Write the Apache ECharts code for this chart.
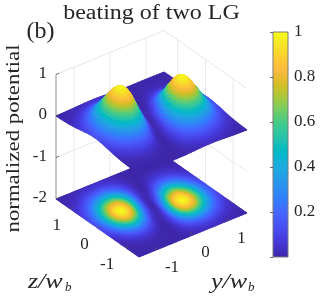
<!DOCTYPE html>
<html><head><meta charset="utf-8">
<style>html,body{margin:0;padding:0;background:#fff}#c{width:332px;height:299px}</style>
<script src="https://cdn.jsdelivr.net/npm/echarts@6/dist/echarts.min.js"></script>
</head><body><div id="c"></div>
<script>
const yGrid = [-1.5,-1.25,-1,-0.75,-0.5,-0.25,0,0.25,0.5,0.75,1,1.25,1.5];
const zGrid = [-1.5,-1.25,-1,-0.75,-0.5,-0.25,0,0.25,0.5,0.75,1,1.25,1.5];
const potentialRows = [
 [0.000,0.001,0.002,0.001,0.000,0.003,0.014,0.028,0.034,0.028,0.017,0.008,0.002],
 [0.003,0.006,0.009,0.007,0.001,0.006,0.040,0.088,0.112,0.097,0.059,0.026,0.009],
 [0.010,0.024,0.038,0.035,0.010,0.005,0.078,0.205,0.285,0.256,0.161,0.073,0.025],
 [0.027,0.068,0.117,0.124,0.056,0.000,0.105,0.360,0.551,0.521,0.338,0.158,0.054],
 [0.057,0.150,0.274,0.320,0.192,0.016,0.088,0.465,0.809,0.815,0.549,0.262,0.091],
 [0.095,0.256,0.485,0.614,0.446,0.102,0.032,0.428,0.895,0.975,0.685,0.337,0.120],
 [0.122,0.334,0.658,0.889,0.738,0.268,0.000,0.268,0.738,0.889,0.658,0.334,0.122],
 [0.120,0.337,0.685,0.975,0.895,0.428,0.032,0.102,0.446,0.614,0.485,0.256,0.095],
 [0.091,0.262,0.549,0.815,0.809,0.465,0.088,0.016,0.192,0.320,0.274,0.150,0.057],
 [0.054,0.158,0.338,0.521,0.551,0.360,0.105,0.000,0.056,0.124,0.117,0.068,0.027],
 [0.025,0.073,0.161,0.256,0.285,0.205,0.078,0.005,0.010,0.035,0.038,0.024,0.010],
 [0.009,0.026,0.059,0.097,0.112,0.088,0.040,0.006,0.001,0.007,0.009,0.006,0.003],
 [0.002,0.008,0.017,0.028,0.034,0.028,0.014,0.003,0.000,0.001,0.002,0.001,0.000]
];
const yTicks = [-1,0,1];
const zTicks = [1,0,-1];
const vTicks = [1,0,-1,-2];
const barTicks = [0.2,0.4,0.6,0.8,1];
const parula = [[.2422,.1504,.6603],[.2504,.165,.7076],[.2578,.1818,.7511],[.2647,.1978,.7952],[.2706,.2147,.8364],[.2751,.2342,.871],[.2783,.2559,.8991],[.2803,.2782,.9221],[.2813,.3006,.9414],[.281,.3228,.9579],[.2795,.3447,.9717],[.276,.3667,.9829],[.2699,.3892,.9906],[.2602,.4123,.9952],[.244,.4358,.9988],[.2206,.4603,.9973],[.1963,.4847,.9892],[.1834,.5074,.9798],[.1786,.5289,.9682],[.1764,.5499,.952],[.1687,.5703,.9359],[.154,.5902,.9218],[.146,.6091,.9079],[.138,.6276,.8973],[.1248,.6459,.8883],[.1113,.6635,.8763],[.0952,.6798,.8598],[.0689,.6948,.8394],[.0297,.7082,.8163],[.0036,.7203,.7917],[.0067,.7312,.766],[.0433,.7411,.7394],[.0964,.75,.712],[.1408,.7584,.6842],[.1717,.767,.6554],[.1938,.7758,.6251],[.2161,.7843,.5923],[.247,.7918,.5567],[.2906,.7973,.5188],[.3406,.8008,.4789],[.3909,.8029,.4354],[.4456,.8024,.3909],[.5044,.7993,.348],[.5616,.7942,.3045],[.6174,.7876,.2612],[.672,.7793,.2227],[.7242,.7698,.191],[.7738,.7598,.1646],[.8203,.7498,.1535],[.8634,.7406,.1596],[.9035,.733,.1774],[.9393,.7288,.21],[.9728,.7298,.2394],[.9956,.7434,.2371],[.997,.7659,.2199],[.9952,.7893,.2028],[.9892,.8136,.1885],[.9786,.8386,.1766],[.9676,.8639,.1643],[.961,.889,.1537],[.9597,.9135,.1423],[.9628,.9373,.1265],[.9691,.9606,.1064],[.9769,.9839,.0805]];

const SERIF = '"Liberation Serif","DejaVu Serif",serif';
const INK = '#262626';
function colorOf(v){
  const t = Math.max(0, Math.min(1, v))*63;
  const i = Math.min(62, Math.floor(t)), f = t-i;
  const m = k => Math.round((parula[i][k]*(1-f)+parula[i+1][k]*f)*255);
  return 'rgb(' + m(0) + ',' + m(1) + ',' + m(2) + ')';
}
// Orthographic view of the MATLAB box; the hidden cartesian axes span the view plane.
function project(y, z, v){
  const a = (y+1.5)/3, b = (z+1.5)/3;
  return [139 + 108*a - 83*b, 257 - (v+2)*41.5 - 44*a - 58*b];
}
// Render-time smoothing of the mesh, the equivalent of MATLAB's "shading interp".
const SUB = 6;
function cr(p0,p1,p2,p3,t){
  return 0.5*((2*p1)+(-p0+p2)*t+(2*p0-5*p1+4*p2-p3)*t*t+(-p0+3*p1-3*p2+p3)*t*t*t);
}
function sample(gy, gz){
  const n = yGrid.length;
  const iy = Math.min(n-2, Math.floor(gy)), iz = Math.min(n-2, Math.floor(gz));
  const ty = gy-iy, tz = gz-iz;
  const cl = k => Math.max(0, Math.min(n-1, k));
  const col = [];
  for (let dz=-1; dz<=2; dz++){
    const r = potentialRows[cl(iz+dz)];
    col.push(cr(r[cl(iy-1)], r[cl(iy)], r[cl(iy+1)], r[cl(iy+2)], ty));
  }
  return Math.max(0, cr(col[0],col[1],col[2],col[3],tz));
}
const cells = [];
const N = (yGrid.length-1)*SUB;
for (let b=N-1; b>=0; b--) for (let a=N-1; a>=0; a--) cells.push([a,b]);
const fine = [];
for (let b=0; b<=N; b++){ const row=[]; for (let a=0; a<=N; a++) row.push(sample(a/SUB,b/SUB)); fine.push(row); }
const fy = a => yGrid[0] + (yGrid[12]-yGrid[0])*a/N;
const fz = b => zGrid[0] + (zGrid[12]-zGrid[0])*b/N;

function surfaceSeries(level){
  return {
    type:'custom', xAxisIndex:0, yAxisIndex:0, silent:true, animation:false, clip:false, z:level===null?3:2,
    data:cells, progressive:0,
    renderItem(p, api){
      const a = api.value(0), b = api.value(1);
      const h = (aa,bb) => api.coord(project(fy(aa), fz(bb), level===null ? fine[bb][aa] : level));
      const v = (fine[b][a]+fine[b][a+1]+fine[b+1][a]+fine[b+1][a+1])/4;
      const col = colorOf(v);
      return {type:'polygon', shape:{points:[h(a,b),h(a+1,b),h(a+1,b+1),h(a,b+1)]}, style:{fill:col, stroke:col, lineWidth:1, lineJoin:'round'}};
    }
  };
}
const lo=-1.5, hi=1.5, vMin=-2, vMax=1;
const wallSegs = [];
[1,0,-1].forEach(v=>{ wallSegs.push([lo,hi,v,hi,hi,v]); wallSegs.push([hi,hi,v,hi,lo,v]); });
yTicks.forEach(y=>wallSegs.push([y,hi,vMin,y,hi,vMax]));
zTicks.forEach(z=>wallSegs.push([hi,z,vMin,hi,z,vMax]));
function segSeries(list, color, width, z){
  return {
    type:'custom', xAxisIndex:0, yAxisIndex:0, silent:true, animation:false, clip:false, z, data:list.map((s,i)=>[i]),
    renderItem(p, api){
      const s = list[api.value(0)];
      const A = api.coord(project(s[0],s[1],s[2])), B = api.coord(project(s[3],s[4],s[5]));
      return {type:'line', shape:{x1:A[0],y1:A[1],x2:B[0],y2:B[1]}, style:{stroke:color, lineWidth:width}};
    }
  };
}
const tickSegs = [];
yTicks.forEach(y=>tickSegs.push([y,lo,vMin,y,lo+0.11,vMin]));
zTicks.forEach(z=>tickSegs.push([lo,z,vMin,lo+0.09,z,vMin]));
vTicks.forEach(v=>tickSegs.push([lo,hi,v,lo+0.09,hi,v]));

const labels = [];
zTicks.forEach(z=>{const t=project(lo,z,vMin); labels.push({text:String(z),p:t,dx:z<0?-18:-13,dy:17,align:'center'});});
yTicks.forEach(y=>{const t=project(y,lo,vMin); labels.push({text:String(y),p:t,dx:y<0?15:12.5,dy:18,align:'center'});});
vTicks.forEach(v=>{const t=project(lo,hi,v); labels.push({text:String(v),p:t,dx:-9,dy:-1,align:'right'});});
const labelSeries = {
  type:'custom', xAxisIndex:0, yAxisIndex:0, silent:true, animation:false, clip:false, z:6, data:labels.map((l,i)=>[i]),
  renderItem(p, api){
    const l = labels[api.value(0)];
    const c = api.coord(l.p);
    return {type:'text', style:{text:l.text, x:c[0]+l.dx, y:c[1]+l.dy, align:l.align, verticalAlign:'middle', fill:INK, font:'17px '+SERIF}};
  }
};
const barGradient = new echarts.graphic.LinearGradient(0,1,0,0, parula.map((c,i)=>({offset:i/63, color:colorOf(i/63)})));
const barSeries = {
  type:'custom', xAxisIndex:1, yAxisIndex:1, silent:true, animation:false, clip:false, z:2, data:[[0]],
  renderItem(p, api){
    const A = api.coord([0,0]), B = api.coord([1,1]);
    return {type:'rect', shape:{x:A[0],y:B[1],width:B[0]-A[0],height:A[1]-B[1]}, style:{fill:barGradient, stroke:'#7a7a7a', lineWidth:1}};
  }
};
function caption(text, x, y, font, align, scaleX, rotation){
  return {type:'text', silent:true, z:10, x, y, scaleX:scaleX||1, scaleY:1, rotation:rotation||0,
    style:{text, x:0, y:0, align:align, verticalAlign:'middle', fill:INK, font:font+' '+SERIF}};
}
const chart = echarts.init(document.getElementById('c'), null, {renderer:'canvas', width:332, height:299});
chart.setOption({
  animation:false, backgroundColor:'#fff',
  grid:[
    {left:0, top:0, width:332, height:299, show:false},
    {left:273, top:32, width:15, height:225, show:false}
  ],
  xAxis:[
    {type:'value', gridIndex:0, min:0, max:332, show:false},
    {type:'value', gridIndex:1, min:0, max:1, show:false}
  ],
  yAxis:[
    {type:'value', gridIndex:0, min:0, max:299, inverse:true, show:false},
    {type:'value', gridIndex:1, min:0, max:1, interval:0.2, position:'right', z:5,
     axisLine:{show:false}, splitLine:{show:false},
     axisTick:{show:true, inside:true, length:3, lineStyle:{color:'#444', width:0.8}},
     axisLabel:{show:true, margin:6, color:INK, fontFamily:SERIF, fontSize:17,
       formatter:v=> barTicks.some(t=>Math.abs(t-v)<1e-6) ? String(+v.toFixed(1)) : ''}}
  ],
  series:[
    segSeries(wallSegs,'#e8e8e8',1,0),
    segSeries([[lo,hi,vMin,lo,hi,vMax]],'#b4b4b4',1.5,1),
    surfaceSeries(vMin),
    surfaceSeries(null),
    segSeries(tickSegs,'#555',0.8,5),
    labelSeries, barSeries
  ],
  graphic:[
    caption('beating of two LG', 151.5, 14, '20px', 'center', 1.2),
    caption('(b)', 40.5, 32, '24px', 'center', 1),
    caption('normalized potential', 14, 138.5, '19px', 'center', 1.2, Math.PI/2),
    caption('z/w', 28, 283, 'italic 20px', 'left', 1.3),
    caption('b', 65, 288, 'italic 13px', 'left', 1),
    caption('y/w', 211, 283, 'italic 20px', 'left', 1.3),
    caption('b', 248, 288, 'italic 13px', 'left', 1)
  ]
});
</script></body></html>
